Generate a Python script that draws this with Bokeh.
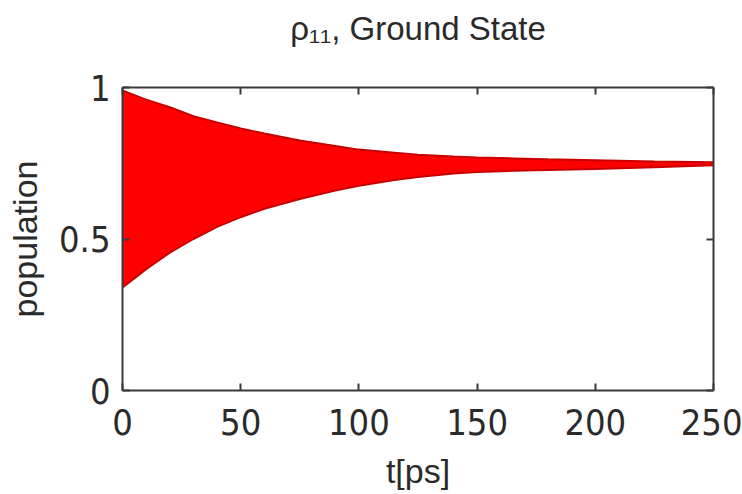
from bokeh.plotting import figure
from bokeh.models import Range1d, LinearAxis, FixedTicker
from bokeh.embed import file_html
from bokeh.resources import INLINE

# Time axis [ps] and the upper / lower envelope of the fast rho_11 oscillation
t_ps = [0, 5, 10, 20, 30, 40, 50, 60, 75, 90, 100, 115, 125, 140, 150, 165, 180, 200, 225, 250]
rho_upper = [0.99, 0.975, 0.96, 0.935, 0.905, 0.885, 0.865, 0.848, 0.825, 0.807, 0.795,
             0.785, 0.778, 0.772, 0.769, 0.766, 0.763, 0.760, 0.756, 0.753]
rho_lower = [0.34, 0.37, 0.40, 0.455, 0.50, 0.54, 0.572, 0.600, 0.632, 0.660, 0.676,
             0.695, 0.705, 0.716, 0.721, 0.725, 0.728, 0.731, 0.737, 0.743]

x_ticks = [0, 50, 100, 150, 200, 250]
y_ticks = [0, 0.5, 1]
y_tick_labels = ["0", "0.5", "1"]
title_text = "\u03c1\u2081\u2081, Ground State"

TEXT = "#2a2a2a"
AXIS = "#3a3a3a"
TICK_FONT = "'Liberation Sans Narrow', 'DejaVu Sans Condensed', sans-serif"
LABEL_FONT = "'Liberation Sans', Arial, sans-serif"

p = figure(width=742, height=494,
           x_range=Range1d(0, 250), y_range=Range1d(0, 1),
           output_backend="svg", toolbar_location=None,
           min_border_left=122, min_border_right=29,
           min_border_top=87, min_border_bottom=104,
           x_axis_label="t[ps]", y_axis_label="population")
p.xgrid.visible = False
p.ygrid.visible = False
p.outline_line_color = None
p.background_fill_color = "white"
p.border_fill_color = "white"

# filled oscillation band between the envelopes
p.varea(x=t_ps, y1=rho_lower, y2=rho_upper, fill_color="#ff0000")
p.line(x=t_ps, y=rho_upper, line_color="#c80000", line_width=2)
p.line(x=t_ps, y=rho_lower, line_color="#c80000", line_width=2)

# box-style axes: labelled bottom/left, bare top/right (top one carries the title)
top_axis = LinearAxis(axis_label=title_text)
right_axis = LinearAxis()
p.add_layout(top_axis, "above")
p.add_layout(right_axis, "right")

for ax in [p.below[0], top_axis]:
    ax.ticker = FixedTicker(ticks=x_ticks)
for ax in [p.left[0], right_axis]:
    ax.ticker = FixedTicker(ticks=y_ticks)

for ax in [p.below[0], p.left[0], top_axis, right_axis]:
    ax.axis_line_color = AXIS
    ax.axis_line_width = 2
    ax.major_tick_line_color = AXIS
    ax.major_tick_line_width = 2
    ax.major_tick_in = 7
    ax.major_tick_out = 0
    ax.minor_tick_in = 0
    ax.minor_tick_out = 0

for ax in [top_axis, right_axis]:
    ax.major_label_text_alpha = 0
    ax.major_label_text_font_size = "1px"

top_axis.axis_label_text_font = LABEL_FONT
top_axis.axis_label_text_font_size = "33px"
top_axis.axis_label_text_font_style = "normal"
top_axis.axis_label_text_color = TEXT
top_axis.axis_label_standoff = 41

xa = p.below[0]
xa.major_label_text_font = TICK_FONT
xa.major_label_text_font_size = "36px"
xa.major_label_text_color = TEXT
xa.major_label_standoff = 18
xa.axis_label_text_font = LABEL_FONT
xa.axis_label_text_font_size = "34px"
xa.axis_label_text_font_style = "normal"
xa.axis_label_text_color = TEXT
xa.axis_label_standoff = 14

ya = p.left[0]
ya.major_label_overrides = {t: s for t, s in zip(y_ticks, y_tick_labels)}
ya.major_label_text_font = TICK_FONT
ya.major_label_text_font_size = "36px"
ya.major_label_text_color = TEXT
ya.major_label_standoff = 12
ya.axis_label_text_font = LABEL_FONT
ya.axis_label_text_font_size = "34px"
ya.axis_label_text_font_style = "normal"
ya.axis_label_text_color = TEXT
ya.axis_label_standoff = 12

open("out.html", "w").write(file_html(p, INLINE))
